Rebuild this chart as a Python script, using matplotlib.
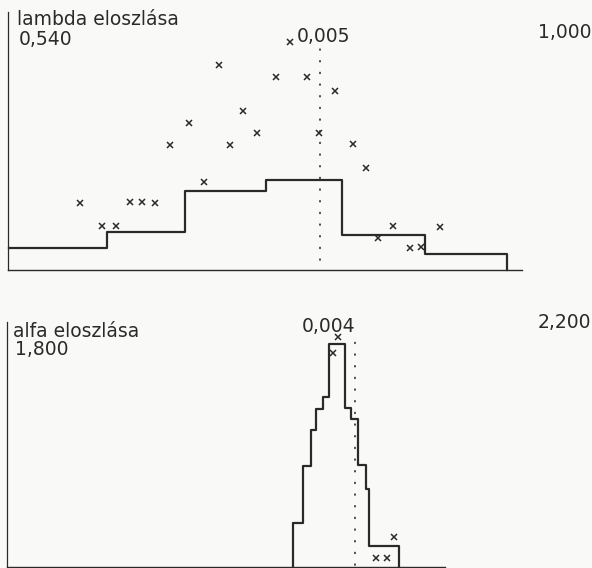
import matplotlib.pyplot as plt

W, H = 592, 568

# lambda distribution (top)
lam_edges = [0.541, 0.629, 0.698, 0.771, 0.839, 0.913, 0.987]
lam_hist = [22, 38, 79, 90, 35, 16]
lam_x = [0.604, 0.624, 0.637, 0.649, 0.660, 0.672, 0.685, 0.702, 0.715, 0.729,
         0.739, 0.750, 0.763, 0.780, 0.792, 0.808, 0.818, 0.833, 0.849, 0.860,
         0.871, 0.885, 0.900, 0.910, 0.927]
lam_y = [67, 44, 44, 68, 68, 67, 125, 147, 88, 205,
         125, 159, 137, 193, 228, 193, 137, 179, 126, 102,
         32, 44, 22, 23, 43]
lam_mean = 0.819

# alfa distribution (bottom)
alf_edges = [2.0224, 2.0297, 2.0361, 2.0398, 2.0452, 2.0503,
             2.0625, 2.0670, 2.0729, 2.0788, 2.0814, 2.1045]
alf_hist = [44, 101, 137, 158, 170, 223, 159, 148, 102, 78, 21]
alf_x = [2.0571, 2.0532, 2.1006, 2.0866, 2.0951]
alf_y = [230, 214, 30, 9, 9]
alf_mean = 2.0703

ink = '#2a2a2a'
bg = '#f9f9f7'

fig = plt.figure(figsize=(W/100, H/100), dpi=100, facecolor=bg)


def steps(edges, vals):
    xs, ys = [], []
    for i, v in enumerate(vals):
        xs += [edges[i], edges[i+1]]
        ys += [v, v]
    xs.append(edges[-1])
    ys.append(0)
    return xs, ys


def panel(rect, xlim, ylim, axtop, base_end):
    ax = fig.add_axes(rect)
    ax.set_facecolor(bg)
    ax.set_xlim(*xlim)
    ax.set_ylim(*ylim)
    for s in ['top', 'right', 'bottom']:
        ax.spines[s].set_visible(False)
    ax.spines['left'].set_color(ink)
    ax.spines['left'].set_linewidth(0.9)
    ax.spines['left'].set_bounds(0, axtop)
    ax.set_xticks([])
    ax.set_yticks([])
    ax.plot([xlim[0], base_end], [0, 0], color=ink, lw=1.0, clip_on=False)
    return ax


# top
ax1 = panel([8/W, 1-270/H, 584/W, 260/H], (0.54, 1.0627), (0, 260), 258, 1.0)
sx, sy = steps(lam_edges, lam_hist)
ax1.plot(sx, sy, color=ink, lw=1.6, clip_on=False)
ax1.plot(lam_x, lam_y, 'x', color=ink, ms=5, mew=1.1, clip_on=False)
ax1.plot([lam_mean, lam_mean], [10, 227], color=ink, lw=1.2,
         linestyle=(0, (0.5, 6.5)), dash_capstyle='round')

# bottom
ax2 = panel([7/W, 1/H, 585/W, 247/H], (1.8, 2.2544), (0, 247), 245, 2.14)
sx, sy = steps(alf_edges, alf_hist)
sx = [alf_edges[0]] + sx
sy = [0] + sy
ax2.plot(sx, sy, color=ink, lw=1.6, clip_on=False)
ax2.plot(alf_x, alf_y, 'x', color=ink, ms=5, mew=1.1, clip_on=False)
ax2.plot([alf_mean, alf_mean], [2, 234], color=ink, lw=1.2,
         linestyle=(0, (0.5, 6.5)), dash_capstyle='round')


def label(x, y, s, ha='left', size=13.5):
    fig.text(x/W, 1-y/H, s, fontsize=size, color=ink, va='baseline', ha=ha,
             family='DejaVu Sans')


label(17, 25, 'lambda eloszlása')
label(19, 45, '0,540')
label(297, 42, '0,005')
label(591, 38, '1,000', ha='right')
label(13, 337, 'alfa eloszlása')
label(15, 355, '1,800')
label(302, 332, '0,004')
label(591, 328, '2,200', ha='right')

fig.savefig('out.png', dpi=100, facecolor=bg)
